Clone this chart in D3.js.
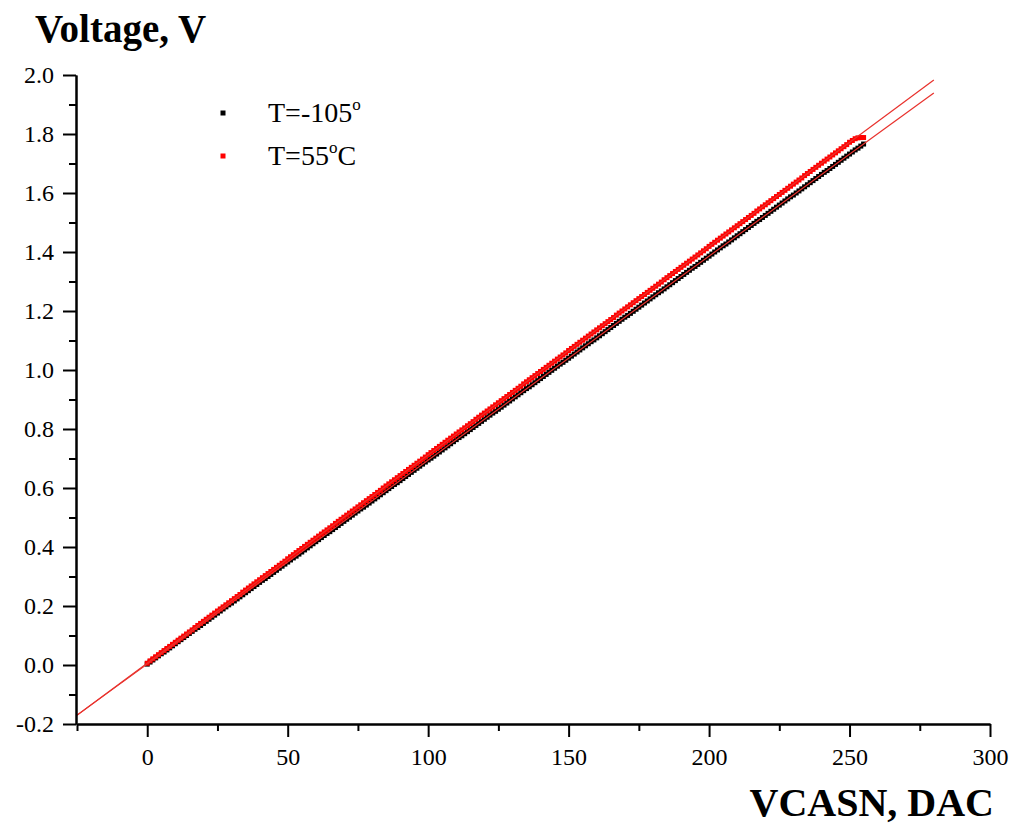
<!DOCTYPE html>
<html>
<head>
<meta charset="utf-8">
<script src="https://cdn.jsdelivr.net/npm/d3@7"></script>
<style>
  html, body { margin: 0; padding: 0; background: #fff; }
  svg { display: block; }
  text { font-family: "Liberation Serif", "Times New Roman", serif; fill: #000; }
</style>
</head>
<body>
<svg id="chart" width="1013" height="827"></svg>
<script>
// Measured output voltage (mV) for each VCASN DAC code 0..255
const dacCodes = d3.range(0, 256);

const voltageCold_mV = [
  3,10,17,24,31,38,44,51,58,65,72,79,86,93,100,107,114,121,127,134,
  141,148,155,162,169,176,183,190,197,204,210,217,224,231,238,245,252,259,266,273,
  280,287,293,300,307,314,321,328,335,342,349,356,363,369,376,383,390,397,404,411,
  418,425,432,439,446,452,459,466,473,480,487,494,501,508,515,522,529,535,542,549,
  556,563,570,577,584,591,598,605,612,618,625,632,639,646,653,660,667,674,681,688,
  695,701,708,715,722,729,736,743,750,757,764,771,777,784,791,798,805,812,819,826,
  833,840,847,854,860,867,874,881,888,895,902,909,916,923,930,937,943,950,957,964,
  971,978,985,992,999,1006,1013,1020,1026,1033,1040,1047,1054,1061,1068,1075,1082,1089,1096,1102,
  1109,1116,1123,1130,1137,1144,1151,1158,1165,1172,1179,1185,1192,1199,1206,1213,1220,1227,1234,1241,
  1248,1255,1262,1268,1275,1282,1289,1296,1303,1310,1317,1324,1331,1338,1345,1351,1358,1365,1372,1379,
  1386,1393,1400,1407,1414,1421,1427,1434,1441,1448,1455,1462,1469,1476,1483,1490,1497,1504,1510,1517,
  1524,1531,1538,1545,1552,1559,1566,1573,1580,1587,1593,1600,1607,1614,1621,1628,1635,1642,1649,1656,
  1663,1670,1676,1683,1690,1697,1704,1711,1718,1725,1732,1739,1746,1752,1759,1766
];

const voltageHot_mV = [
  6,14,21,28,35,42,49,56,63,70,77,84,91,98,105,112,119,127,134,141,
  148,155,162,169,176,183,190,197,204,211,218,225,232,239,247,254,261,268,275,282,
  289,296,303,310,317,324,331,338,345,352,360,367,374,381,388,395,402,409,416,423,
  430,437,444,451,458,465,472,480,487,494,501,508,515,522,529,536,543,550,557,564,
  571,578,585,592,600,607,614,621,628,635,642,649,656,663,670,677,684,691,698,705,
  713,720,727,734,741,748,755,762,769,776,783,790,797,804,811,818,825,833,840,847,
  854,861,868,875,882,889,896,903,910,917,924,931,938,945,953,960,967,974,981,988,
  995,1002,1009,1016,1023,1030,1037,1044,1051,1058,1066,1073,1080,1087,1094,1101,1108,1115,1122,1129,
  1136,1143,1150,1157,1164,1171,1178,1186,1193,1200,1207,1214,1221,1228,1235,1242,1249,1256,1263,1270,
  1277,1284,1291,1298,1306,1313,1320,1327,1334,1341,1348,1355,1362,1369,1376,1383,1390,1397,1404,1411,
  1419,1426,1433,1440,1447,1454,1461,1468,1475,1482,1489,1496,1503,1510,1517,1524,1531,1539,1546,1553,
  1560,1567,1574,1581,1588,1595,1602,1609,1616,1623,1630,1637,1644,1651,1659,1666,1673,1680,1687,1694,
  1701,1708,1715,1722,1729,1736,1743,1750,1757,1764,1772,1778,1784,1787,1788,1788
];

// Linear fits V = intercept + slope * DAC, drawn over the fit range
const seriesNames = ["T=-105", "T=55"];
const fitRange = [-25, 280];
const fitIntercept = [0.003, 0.0065];
const fitSlope = [0.006915, 0.00706];

// Axis ticks
const xTicks = [0, 50, 100, 150, 200, 250, 300];
const xMinorTicks = [-25, 25, 75, 125, 175, 225, 275];
const yTicks = [-0.2, 0.0, 0.2, 0.4, 0.6, 0.8, 1.0, 1.2, 1.4, 1.6, 1.8, 2.0];
const yMinorTicks = [-0.1, 0.1, 0.3, 0.5, 0.7, 0.9, 1.1, 1.3, 1.5, 1.7, 1.9];

const svg = d3.select("#chart");

const x = d3.scaleLinear().domain([-25, 300]).range([77, 990]);
const y = d3.scaleLinear().domain([-0.2, 2.0]).range([724, 75]);

const colors = ["#000000", "#ff0000"];
const fitColor = "#e8312c";
const markerSize = 5;

// Data points: cold series first, warm series on top
const series = [voltageCold_mV, voltageHot_mV];
series.forEach((vals, i) => {
  svg.append("g")
    .selectAll("rect")
    .data(dacCodes)
    .join("rect")
    .attr("x", d => x(d) - markerSize / 2)
    .attr("y", d => y(vals[d] / 1000) - markerSize / 2)
    .attr("width", markerSize)
    .attr("height", markerSize)
    .attr("fill", colors[i]);
});

// Fit lines
fitIntercept.forEach((a, i) => {
  const pts = fitRange.map(d => [d, a + fitSlope[i] * d]);
  svg.append("path")
    .datum(pts)
    .attr("fill", "none")
    .attr("stroke", fitColor)
    .attr("stroke-width", 1.2)
    .attr("d", d3.line().x(d => x(d[0])).y(d => y(d[1])));
});

// Axes
function styleAxis(g) {
  g.selectAll("path.domain").attr("stroke", "#000").attr("stroke-width", 2);
  g.selectAll(".tick line").attr("stroke", "#000").attr("stroke-width", 2);
  g.selectAll(".tick text")
    .style("font-family", '"Liberation Serif", "Times New Roman", serif')
    .style("font-size", "24px")
    .attr("fill", "#000");
}

svg.append("g")
  .attr("transform", "translate(0,724)")
  .call(d3.axisBottom(x).tickValues(xMinorTicks).tickSize(7).tickSizeOuter(0).tickFormat(""))
  .call(styleAxis);
svg.append("g")
  .attr("transform", "translate(0,724)")
  .call(d3.axisBottom(x).tickValues(xTicks).tickSize(13).tickSizeOuter(0).tickPadding(11).tickFormat(d => String(d)))
  .call(styleAxis);

svg.append("g")
  .attr("transform", "translate(76,0)")
  .call(d3.axisLeft(y).tickValues(yMinorTicks).tickSize(7).tickSizeOuter(0).tickFormat(""))
  .call(styleAxis);
svg.append("g")
  .attr("transform", "translate(76,0)")
  .call(d3.axisLeft(y).tickValues(yTicks).tickSize(13).tickSizeOuter(0).tickPadding(9)
    .tickFormat(d => (Math.abs(d) < 1e-9 ? 0 : d).toFixed(1)))
  .call(styleAxis);

// Axis titles
svg.append("text")
  .attr("x", 35).attr("y", 42)
  .style("font-size", "39px").style("font-weight", "bold")
  .text("Voltage, V");

svg.append("text")
  .attr("x", 994).attr("y", 816)
  .attr("text-anchor", "end")
  .style("font-size", "40px").style("font-weight", "bold")
  .text("VCASN, DAC");

// Legend
const legendRows = [
  { name: seriesNames[0], suffix: "" , y: 113 },
  { name: seriesNames[1], suffix: "C", y: 156 }
];
legendRows.forEach((r, i) => {
  svg.append("rect")
    .attr("x", 223 - markerSize / 2).attr("y", r.y - markerSize / 2)
    .attr("width", markerSize).attr("height", markerSize)
    .attr("fill", colors[i]);
  const t = svg.append("text")
    .attr("x", 268).attr("y", r.y + 9)
    .style("font-size", "28px");
  t.append("tspan").text(r.name);
  t.append("tspan").attr("dy", -12).style("font-size", "17px").text("o");
  if (r.suffix) t.append("tspan").attr("dy", 12).text(r.suffix);
});
</script>
</body>
</html>
